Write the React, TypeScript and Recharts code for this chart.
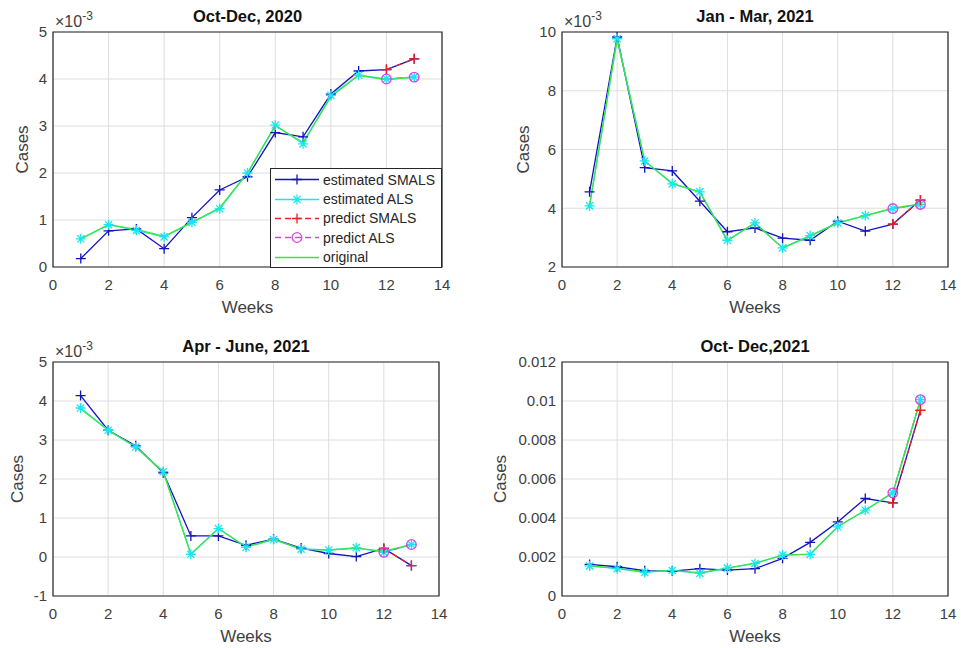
import React from 'react';
import { LineChart, Line, XAxis, YAxis, CartesianGrid, ReferenceArea, Label } from 'recharts';

const WEEKS = [1, 2, 3, 4, 5, 6, 7, 8, 9, 10, 11, 12, 13];
const X_TICKS = [0, 2, 4, 6, 8, 10, 12, 14];

// Panel 1: Oct-Dec, 2020 (values ×10^-3)
const p1EstSMALS = [0.18, 0.77, 0.81, 0.39, 1.05, 1.64, 1.92, 2.86, 2.77, 3.68, 4.17, 4.2, 4.43];
const p1EstALS = [0.6, 0.9, 0.78, 0.64, 0.95, 1.24, 2.0, 3.02, 2.62, 3.65, 4.08, 4.0, 4.04];
const p1PredSMALS = [4.2, 4.43];
const p1PredALS = [4.0, 4.04];
const p1Original = [0.6, 0.9, 0.8, 0.65, 0.95, 1.26, 2.0, 3.0, 2.65, 3.62, 4.08, 3.98, 4.04];
const p1YTicks = [0, 1, 2, 3, 4, 5];

// Panel 2: Jan - Mar, 2021 (values ×10^-3)
const p2EstSMALS = [4.56, 9.83, 5.38, 5.27, 4.24, 3.2, 3.33, 2.98, 2.91, 3.56, 3.22, 3.46, 4.28];
const p2EstALS = [4.08, 9.77, 5.61, 4.83, 4.56, 2.91, 3.5, 2.65, 3.07, 3.5, 3.75, 3.99, 4.13];
const p2PredSMALS = [3.46, 4.28];
const p2PredALS = [3.99, 4.13];
const p2Original = [4.1, 9.75, 5.6, 4.85, 4.55, 2.9, 3.5, 2.65, 3.05, 3.5, 3.75, 4.0, 4.15];
const p2YTicks = [2, 4, 6, 8, 10];

// Panel 3: Apr - June, 2021 (values ×10^-3)
const p3EstSMALS = [4.14, 3.25, 2.85, 2.16, 0.54, 0.54, 0.3, 0.46, 0.23, 0.09, 0.01, 0.22, -0.22];
const p3EstALS = [3.82, 3.25, 2.82, 2.19, 0.07, 0.73, 0.25, 0.45, 0.2, 0.18, 0.24, 0.12, 0.32];
const p3PredSMALS = [0.22, -0.22];
const p3PredALS = [0.12, 0.32];
const p3Original = [3.8, 3.25, 2.82, 2.18, 0.08, 0.73, 0.26, 0.45, 0.2, 0.18, 0.22, 0.15, 0.32];
const p3YTicks = [-1, 0, 1, 2, 3, 4, 5];

// Panel 4: Oct- Dec,2021
const p4EstSMALS = [0.00162, 0.0015, 0.0013, 0.00128, 0.0014, 0.00133, 0.0014, 0.00193, 0.00275, 0.0038, 0.005, 0.00478, 0.00952];
const p4EstALS = [0.00154, 0.0014, 0.00121, 0.00131, 0.00116, 0.00143, 0.00167, 0.0021, 0.00213, 0.00355, 0.0044, 0.00529, 0.01007];
const p4PredSMALS = [0.00478, 0.00952];
const p4PredALS = [0.00529, 0.01007];
const p4Original = [0.00155, 0.00142, 0.00125, 0.0013, 0.0012, 0.00143, 0.00168, 0.0021, 0.00215, 0.00355, 0.0044, 0.0053, 0.01005];
const p4YTicks = [0, 0.002, 0.004, 0.006, 0.008, 0.01, 0.012];

const LEGEND_NAMES = ['estimated SMALS', 'estimated ALS', 'predict SMALS', 'predict ALS', 'original'];

const C_BLUE = '#1212c0';
const C_CYAN = '#19e6ee';
const C_RED = '#ee2020';
const C_MAG = '#e040e8';
const C_GREEN = '#3ee43e';
const FONT = '"Liberation Sans", Arial, Helvetica, sans-serif';
const TXT = '#404040';

function buildRows(est: number[], als: number[], pS: number[], pA: number[], orig: number[]) {
  return WEEKS.map((w, i) => ({
    week: w,
    estSMALS: est[i],
    estALS: als[i],
    predSMALS: i >= 11 ? pS[i - 11] : null,
    predALS: i >= 11 ? pA[i - 11] : null,
    original: orig[i],
  }));
}

const plusShape = (cx: number, cy: number, color: string, key: any) => (
  <path key={key} d={`M${cx - 5},${cy}H${cx + 5}M${cx},${cy - 5}V${cy + 5}`} stroke={color} strokeWidth={1.3} fill="none" />
);
const starShape = (cx: number, cy: number, color: string, key: any) => (
  <path
    key={key}
    d={`M${cx - 5},${cy}H${cx + 5}M${cx},${cy - 5}V${cy + 5}M${cx - 3.6},${cy - 3.6}L${cx + 3.6},${cy + 3.6}M${cx - 3.6},${cy + 3.6}L${cx + 3.6},${cy - 3.6}`}
    stroke={color}
    strokeWidth={1.3}
    fill="none"
  />
);
const circleShape = (cx: number, cy: number, color: string, key: any) => (
  <circle key={key} cx={cx} cy={cy} r={4.8} stroke={color} strokeWidth={1.3} fill="none" />
);

const makeDot = (shape: (cx: number, cy: number, c: string, k: any) => any, color: string) => (props: any) => {
  const { cx, cy, index, value } = props;
  if (cx == null || cy == null || value == null || Number.isNaN(cy)) return <g key={'e' + index} />;
  return shape(cx, cy, color, 'd' + index);
};

type PanelProps = {
  left: number;
  top: number;
  width: number;
  height: number;
  plotL: number;
  plotR: number;
  plotT: number;
  plotB: number;
  title: string;
  exponent: boolean;
  rows: any[];
  yTicks: number[];
  casesDist: number;
};

function Legend() {
  const rows = [
    { name: LEGEND_NAMES[0], color: C_BLUE, dash: undefined, shape: plusShape },
    { name: LEGEND_NAMES[1], color: C_CYAN, dash: undefined, shape: starShape },
    { name: LEGEND_NAMES[2], color: C_RED, dash: '6 4', shape: plusShape },
    { name: LEGEND_NAMES[3], color: C_MAG, dash: '6 4', shape: circleShape },
    { name: LEGEND_NAMES[4], color: C_GREEN, dash: undefined, shape: null as any },
  ];
  return (
    <div
      style={{
        position: 'absolute',
        left: 270,
        top: 168,
        width: 170,
        height: 97,
        border: '1px solid #262626',
        background: '#fff',
        fontFamily: FONT,
        fontSize: 14,
        color: '#262626',
        paddingTop: 1,
        boxSizing: 'content-box',
      }}
    >
      {rows.map((r, i) => (
        <div key={i} style={{ height: 19.4, display: 'flex', alignItems: 'center' }}>
          <svg width={52} height={19} style={{ flex: 'none' }}>
            <line x1={4} y1={9.5} x2={48} y2={9.5} stroke={r.color} strokeWidth={1.3} strokeDasharray={r.dash} />
            {r.shape ? r.shape(26, 9.5, r.color, 'm') : null}
          </svg>
          <span style={{ whiteSpace: 'nowrap' }}>{r.name}</span>
        </div>
      ))}
    </div>
  );
}

function Panel(p: PanelProps) {
  const yAxisWidth = 40;
  const xAxisHeight = 30;
  const margin = {
    top: p.plotT,
    right: p.width - p.plotR,
    left: p.plotL - yAxisWidth,
    bottom: p.height - p.plotB - xAxisHeight,
  };
  const yDom: [number, number] = [p.yTicks[0], p.yTicks[p.yTicks.length - 1]];
  const tickStyle = { fill: TXT, fontSize: 15, fontFamily: FONT };
  return (
    <div style={{ position: 'absolute', left: p.left, top: p.top, width: p.width, height: p.height }}>
      <LineChart width={p.width} height={p.height} data={p.rows} margin={margin}>
        <CartesianGrid stroke="#dedede" strokeWidth={1} />
        <XAxis
          dataKey="week"
          type="number"
          domain={[0, 14]}
          ticks={X_TICKS}
          allowDataOverflow
          axisLine={false}
          tickLine={false}
          tickSize={0}
          tickMargin={12}
          height={xAxisHeight}
          tick={tickStyle}
        >
          <Label
            content={(lp: any) => {
              const vb = lp.viewBox || {};
              return (
                <text
                  x={vb.x + vb.width / 2}
                  y={vb.y + 40}
                  textAnchor="middle"
                  dominantBaseline="central"
                  fill={TXT}
                  fontSize={17}
                  fontFamily={FONT}
                >
                  Weeks
                </text>
              );
            }}
          />
        </XAxis>
        <YAxis
          type="number"
          domain={yDom}
          ticks={p.yTicks}
          allowDataOverflow
          axisLine={false}
          tickLine={false}
          tickSize={0}
          tickMargin={6}
          width={yAxisWidth}
          tick={tickStyle}
          tickFormatter={(v: number) => String(v)}
        >
          <Label
            content={(lp: any) => {
              const vb = lp.viewBox || {};
              const x = vb.x + vb.width - p.casesDist;
              const y = vb.y + vb.height / 2;
              return (
                <text
                  x={x}
                  y={y}
                  transform={`rotate(-90 ${x} ${y})`}
                  textAnchor="middle"
                  dominantBaseline="central"
                  fill={TXT}
                  fontSize={17}
                  fontFamily={FONT}
                >
                  Cases
                </text>
              );
            }}
          />
        </YAxis>
        <ReferenceArea x1={0} x2={14} y1={yDom[0]} y2={yDom[1]} fill="none" fillOpacity={0} stroke="#262626" strokeWidth={1.2} ifOverflow="visible" />
        <Line dataKey="estSMALS" stroke={C_BLUE} strokeWidth={1.3} dot={makeDot(plusShape, C_BLUE)} isAnimationActive={false} activeDot={false} />
        <Line dataKey="estALS" stroke={C_CYAN} strokeWidth={1.3} dot={makeDot(starShape, C_CYAN)} isAnimationActive={false} activeDot={false} />
        <Line dataKey="predSMALS" stroke={C_RED} strokeWidth={1.3} strokeDasharray="6 4" dot={makeDot(plusShape, C_RED)} isAnimationActive={false} activeDot={false} connectNulls={false} />
        <Line dataKey="predALS" stroke={C_MAG} strokeWidth={1.3} strokeDasharray="6 4" dot={makeDot(circleShape, C_MAG)} isAnimationActive={false} activeDot={false} connectNulls={false} />
        <Line dataKey="original" stroke={C_GREEN} strokeWidth={1.3} dot={false} isAnimationActive={false} activeDot={false} />
      </LineChart>
      <div
        style={{
          position: 'absolute',
          left: p.plotL,
          width: p.plotR - p.plotL,
          top: p.plotT - 25,
          lineHeight: '18px',
          textAlign: 'center',
          fontFamily: FONT,
          fontWeight: 'bold',
          fontSize: 16.5,
          color: '#111',
        }}
      >
        {p.title}
      </div>
      {p.exponent ? (
        <div
          style={{
            position: 'absolute',
            left: p.plotL + 2,
            top: p.plotT - 18,
            lineHeight: '16px',
            fontFamily: FONT,
            fontSize: 16,
            color: TXT,
            whiteSpace: 'nowrap',
          }}
        >
          ×10<span style={{ fontSize: 12, position: 'relative', top: -7 }}>-3</span>
        </div>
      ) : null}
    </div>
  );
}

export default function App() {
  return (
    <div style={{ position: 'absolute', left: 0, top: 0, width: 961, height: 648, background: '#fff', overflow: 'hidden' }}>
      <Panel
        left={0} top={0} width={480} height={320}
        plotL={53} plotR={442} plotT={32} plotB={267}
        title="Oct-Dec, 2020" exponent
        rows={buildRows(p1EstSMALS, p1EstALS, p1PredSMALS, p1PredALS, p1Original)}
        yTicks={p1YTicks} casesDist={31}
      />
      <Panel
        left={480} top={0} width={481} height={320}
        plotL={82} plotR={468} plotT={32} plotB={267}
        title="Jan - Mar, 2021" exponent
        rows={buildRows(p2EstSMALS, p2EstALS, p2PredSMALS, p2PredALS, p2Original)}
        yTicks={p2YTicks} casesDist={39}
      />
      <Panel
        left={0} top={320} width={480} height={328}
        plotL={53} plotR={439} plotT={42} plotB={276}
        title="Apr - June, 2021" exponent
        rows={buildRows(p3EstSMALS, p3EstALS, p3PredSMALS, p3PredALS, p3Original)}
        yTicks={p3YTicks} casesDist={36}
      />
      <Panel
        left={480} top={320} width={481} height={328}
        plotL={82} plotR={468} plotT={42} plotB={276}
        title="Oct- Dec,2021" exponent={false}
        rows={buildRows(p4EstSMALS, p4EstALS, p4PredSMALS, p4PredALS, p4Original)}
        yTicks={p4YTicks} casesDist={62}
      />
      <Legend />
    </div>
  );
}
